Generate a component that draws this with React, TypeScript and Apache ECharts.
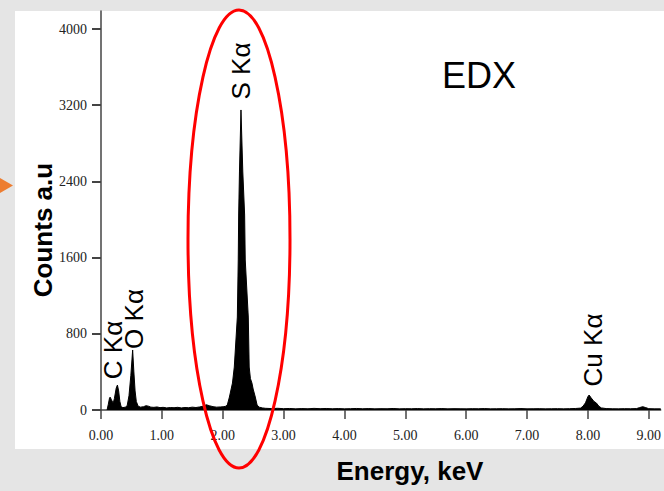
import React, { useEffect, useRef } from "react";
import * as echarts from "echarts";

// Energy (keV) and counts
const energy = [
  0.10, 0.12, 0.14, 0.15, 0.17, 0.20, 0.22, 0.25, 0.27, 0.29, 0.31, 0.33, 0.36, 0.40, 0.43, 0.46,
  0.49, 0.52, 0.54, 0.56, 0.58, 0.61, 0.65, 0.70, 0.74, 0.78, 0.82, 0.87, 0.92, 0.97, 1.02, 1.08,
  1.14, 1.20, 1.26, 1.32, 1.38, 1.44, 1.50, 1.56, 1.62, 1.68, 1.73, 1.78, 1.84, 1.90, 1.96, 2.02,
  2.05, 2.075, 2.11, 2.16, 2.19, 2.24, 2.255, 2.262, 2.275, 2.30, 2.33, 2.36, 2.37, 2.42, 2.435, 2.455,
  2.48, 2.50, 2.535, 2.565, 2.60, 2.65, 2.70, 2.80, 2.90, 3.00, 3.10, 3.20, 3.30, 3.40, 3.50, 3.60,
  3.70, 3.80, 3.90, 4.00, 4.10, 4.20, 4.30, 4.40, 4.50, 4.60, 4.70, 4.80, 4.90, 5.00, 5.10, 5.20,
  5.30, 5.40, 5.50, 5.60, 5.70, 5.80, 5.90, 6.00, 6.10, 6.20, 6.30, 6.40, 6.50, 6.60, 6.70, 6.80,
  6.90, 7.00, 7.10, 7.20, 7.30, 7.40, 7.50, 7.60, 7.70, 7.80, 7.88, 7.92, 7.96, 8.00, 8.02, 8.05,
  8.10, 8.14, 8.18, 8.22, 8.30, 8.40, 8.50, 8.60, 8.70, 8.80, 8.85, 8.90, 8.95, 9.00, 9.10, 9.196,
];
const counts = [
  0, 60, 125, 135, 110, 70, 120, 230, 262, 200, 90, 35, 25, 30, 45, 150,
  360, 630, 400, 200, 90, 40, 30, 35, 45, 40, 30, 28, 32, 25, 28, 22,
  26, 24, 28, 22, 26, 24, 30, 26, 32, 40, 55, 45, 35, 30, 32, 35,
  40, 52, 136, 283, 451, 976, 1575, 2047, 2499, 3150, 2499, 2047, 1575, 976, 451, 330,
  283, 220, 136, 52, 30, 22, 18, 15, 18, 14, 16, 12, 15, 13, 17, 14,
  16, 13, 15, 12, 14, 16, 13, 15, 12, 14, 13, 16, 12, 14, 13, 15,
  12, 14, 13, 15, 12, 14, 13, 12, 14, 13, 15, 12, 13, 14, 12, 13,
  15, 12, 13, 14, 12, 13, 14, 12, 14, 16, 20, 40, 75, 140, 157, 130,
  90, 73, 40, 22, 15, 13, 12, 14, 13, 15, 25, 35, 25, 14, 12, 12,
];

const xTickValues = [0, 1, 2, 3, 4, 5, 6, 7, 8, 9];
const yTickValues = [0, 800, 1600, 2400, 3200, 4000];

const peakLabels = ["C Kα", "O Kα", "S Kα", "Cu Kα"];
const chartTitle = "EDX";
const yTitle = "Counts a.u";
const xTitle = "Energy, keV";

export default function App() {
  const ref = useRef<HTMLDivElement>(null);

  useEffect(() => {
    if (!ref.current) return;
    const chart = echarts.init(ref.current, undefined, { renderer: "svg" });
    const axisColor = "#444";
    const labelFont = {
      fontFamily: "Liberation Serif",
      fontSize: 14,
      color: "#222",
    };
    const rotLabel = (text: string, x: number, y: number) => ({
      type: "text",
      x,
      y,
      rotation: Math.PI / 2,
      z: 50,
      style: {
        text,
        fontFamily: "Liberation Sans",
        fontSize: 26,
        fill: "#000",
        align: "center",
        verticalAlign: "middle",
      },
    });
    chart.setOption({
      animation: false,
      backgroundColor: "transparent",
      grid: { left: 101, right: 0, top: 11, bottom: 81, containLabel: false },
      xAxis: {
        type: "value",
        min: 0,
        max: 9.196,
        interval: 1,
        axisLine: { show: true, onZero: false, lineStyle: { color: axisColor, width: 1.5 } },
        axisTick: {
          show: true,
          length: 9,
          customValues: xTickValues,
          lineStyle: { color: axisColor, width: 1.5 },
        },
        axisLabel: {
          ...labelFont,
          customValues: xTickValues,
          margin: 18,
          formatter: (v: number) => v.toFixed(2),
        },
        splitLine: { show: false },
      },
      yAxis: {
        type: "value",
        min: 0,
        max: 4189,
        interval: 800,
        axisLine: { show: true, onZero: false, lineStyle: { color: axisColor, width: 1.5 } },
        axisTick: {
          show: true,
          length: 9,
          customValues: yTickValues,
          lineStyle: { color: axisColor, width: 2 },
        },
        axisLabel: {
          ...labelFont,
          customValues: yTickValues,
          margin: 14,
          formatter: (v: number) => String(v),
        },
        splitLine: { show: false },
      },
      series: [
        {
          type: "line",
          data: energy.map((e, i) => [e, counts[i]]),
          symbol: "none",
          showSymbol: false,
          lineStyle: { color: "#000", width: 1 },
          areaStyle: { color: "#000", opacity: 1 },
          z: 3,
        },
      ],
      graphic: [
        {
          type: "polygon",
          shape: { points: [[0, 178], [13, 185.5], [0, 193]] },
          style: { fill: "#ed7d31" },
          z: 50,
        },
        {
          type: "text",
          x: 479,
          y: 75,
          z: 50,
          style: {
            text: chartTitle,
            fontFamily: "Liberation Sans",
            fontSize: 36,
            fill: "#000",
            align: "center",
            verticalAlign: "middle",
          },
        },
        {
          type: "text",
          x: 43,
          y: 230,
          rotation: Math.PI / 2,
          z: 50,
          style: {
            text: yTitle,
            fontFamily: "Liberation Sans",
            fontWeight: "bold",
            fontSize: 26,
            fill: "#000",
            align: "center",
            verticalAlign: "middle",
          },
        },
        {
          type: "text",
          x: 410,
          y: 471,
          z: 50,
          style: {
            text: xTitle,
            fontFamily: "Liberation Sans",
            fontWeight: "bold",
            fontSize: 26,
            fill: "#000",
            align: "center",
            verticalAlign: "middle",
          },
        },
        rotLabel(peakLabels[0], 113, 350),
        rotLabel(peakLabels[1], 134, 319),
        rotLabel(peakLabels[2], 241, 71),
        rotLabel(peakLabels[3], 593, 350),
        {
          type: "ellipse",
          shape: { cx: 239, cy: 239, rx: 51, ry: 229 },
          style: { fill: "none", stroke: "#ff0000", lineWidth: 3 },
          z: 60,
        },
      ],
    });
    return () => chart.dispose();
  }, []);

  return (
    <div
      style={{
        position: "fixed",
        left: 0,
        top: 0,
        width: 664,
        height: 491,
        background: "#e5e5e5",
        overflow: "hidden",
      }}
    >
      <div
        style={{
          position: "absolute",
          left: 15,
          top: 11,
          width: 649,
          height: 438,
          background: "#ffffff",
        }}
      />
      <div
        ref={ref}
        style={{ position: "absolute", left: 0, top: 0, width: 664, height: 491 }}
      />
    </div>
  );
}
